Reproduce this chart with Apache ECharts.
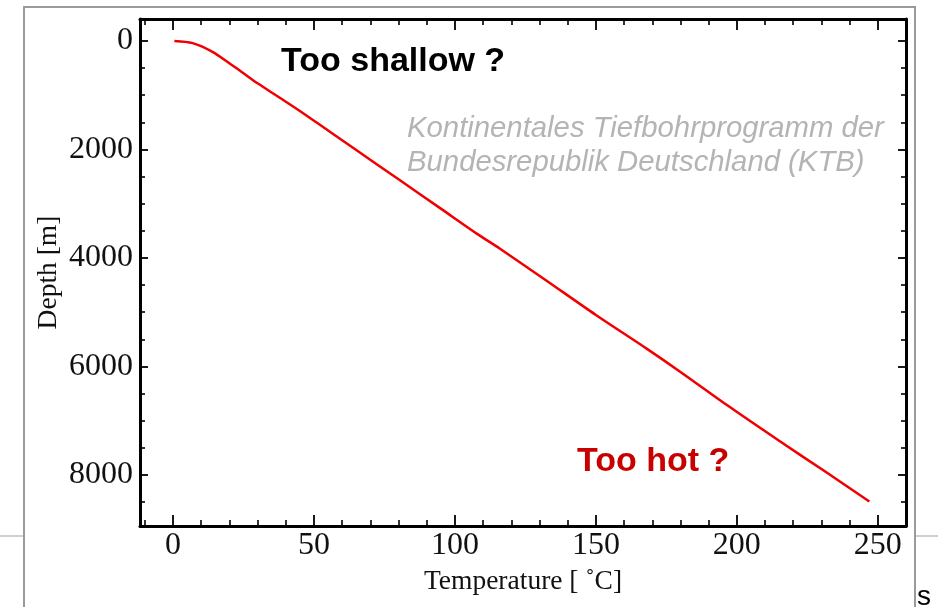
<!DOCTYPE html>
<html><head><meta charset="utf-8">
<script src="https://cdn.jsdelivr.net/npm/echarts@6/dist/echarts.min.js"></script>
<style>html,body{margin:0;padding:0;background:#fff}#c{width:938px;height:607px}</style>
</head><body><div id="c"></div>
<script>
// Temperature (°C) and depth (m) of the KTB borehole profile
const temperature = [0.5, 7, 14, 20, 25, 30, 38, 45, 55, 65, 80, 95, 108, 116, 132, 150, 168, 180, 197, 215, 232, 247];
const depth       = [0, 40, 200, 410, 595, 780, 1050, 1290, 1650, 2010, 2550, 3090, 3560, 3830, 4400, 5050, 5670, 6100, 6730, 7370, 7960, 8490];
const xTickLabels = ['0', '50', '100', '150', '200', '250'];
const yTickLabels = ['0', '2000', '4000', '6000', '8000'];
const xRange = [-11.7, 260];
const yRange = [-405, 8940];

const serif = '"Liberation Serif", "Times New Roman", serif';
const sans = '"Liberation Sans", Arial, sans-serif';

function xAxisDef(pos, showLabel) {
  return {
    type: 'value', position: pos, min: xRange[0], max: xRange[1],
    minInterval: 50, maxInterval: 50,
    axisLine: { show: true, onZero: false, lineStyle: { color: '#000', width: 3 } },
    axisTick: { show: true, inside: true, length: 11, lineStyle: { color: '#000', width: 1.8 } },
    minorTick: { show: true, splitNumber: 5, length: 6, lineStyle: { color: '#000', width: 1.6 } },
    splitLine: { show: false },
    axisLabel: {
      show: showLabel, margin: 4, color: '#111', fontFamily: serif, fontSize: 32,
      formatter: v => { const s = String(Math.round(v)); return (Math.abs(v - Math.round(v)) < 1e-6 && xTickLabels.includes(s)) ? s : ''; }
    }
  };
}
function yAxisDef(pos, showLabel) {
  return {
    type: 'value', position: pos, inverse: true, min: yRange[0], max: yRange[1],
    minInterval: 2000, maxInterval: 2000,
    axisLine: { show: true, onZero: false, lineStyle: { color: '#000', width: 3 } },
    axisTick: { show: true, inside: true, length: 8, lineStyle: { color: '#000', width: 1.8 } },
    minorTick: { show: true, splitNumber: 4, length: 5, lineStyle: { color: '#000', width: 1.6 } },
    splitLine: { show: false },
    axisLabel: {
      show: showLabel, margin: 7, color: '#111', fontFamily: serif, fontSize: 32,
      formatter: v => { const s = String(Math.round(v)); return (Math.abs(v - Math.round(v)) < 1e-6 && yTickLabels.includes(s)) ? s : ''; }
    }
  };
}

const bx = xAxisDef('bottom', true);
bx.name = 'Temperature [ \u02DAC]';
bx.nameLocation = 'middle';
bx.nameGap = 42;
bx.nameMoveOverlap = false;
bx.nameTextStyle = { fontFamily: serif, fontSize: 27.5, color: '#111' };
const ly = yAxisDef('left', true);
ly.name = 'Depth [m]';
ly.nameLocation = 'middle';
ly.nameGap = 77;
ly.nameMoveOverlap = false;
ly.nameTextStyle = { fontFamily: serif, fontSize: 27.5, color: '#111' };

const chart = echarts.init(document.getElementById('c'), null, { renderer: 'canvas' });
chart.setOption({
  animation: false,
  backgroundColor: '#fff',
  grid: { left: 140, top: 19, right: 32, bottom: 81, containLabel: false },
  xAxis: [bx, xAxisDef('top', false)],
  yAxis: [ly, yAxisDef('right', false)],
  series: [{
    type: 'line', xAxisIndex: 0, yAxisIndex: 0,
    data: temperature.map((t, i) => [t, depth[i]]),
    showSymbol: false, smooth: 0.3,
    lineStyle: { color: '#f00000', width: 2.5 }
  }],
  graphic: [
    { type: 'rect', z: -1, shape: { x: 24, y: 7, width: 891, height: 640 }, style: { fill: 'none', stroke: '#9a9a9a', lineWidth: 2 } },
    { type: 'line', shape: { x1: 0, y1: 536, x2: 23, y2: 536 }, style: { stroke: '#cfcfcf', lineWidth: 2 } },
    { type: 'line', shape: { x1: 916, y1: 536, x2: 938, y2: 536 }, style: { stroke: '#cfcfcf', lineWidth: 2 } },
    { type: 'text', x: 917, y: 597, style: { text: 's', font: '28px ' + sans, fill: '#000', verticalAlign: 'middle', textVerticalAlign: 'middle' } },
    { type: 'text', x: 281, y: 62, style: { text: 'Too shallow ?', font: 'bold 34px ' + sans, fill: '#000', verticalAlign: 'middle', textVerticalAlign: 'middle' } },
    { type: 'text', x: 407, y: 129, style: { text: 'Kontinentales Tiefbohrprogramm der', font: 'italic 29.3px ' + sans, fill: '#b4b4b4', verticalAlign: 'middle', textVerticalAlign: 'middle' } },
    { type: 'text', x: 407, y: 163, style: { text: 'Bundesrepublik Deutschland (KTB)', font: 'italic 29.3px ' + sans, fill: '#b4b4b4', verticalAlign: 'middle', textVerticalAlign: 'middle' } },
    { type: 'text', x: 577, y: 462, style: { text: 'Too hot ?', font: 'bold 34px ' + sans, fill: '#c80000', verticalAlign: 'middle', textVerticalAlign: 'middle' } }
  ]
});
</script>
</body></html>
